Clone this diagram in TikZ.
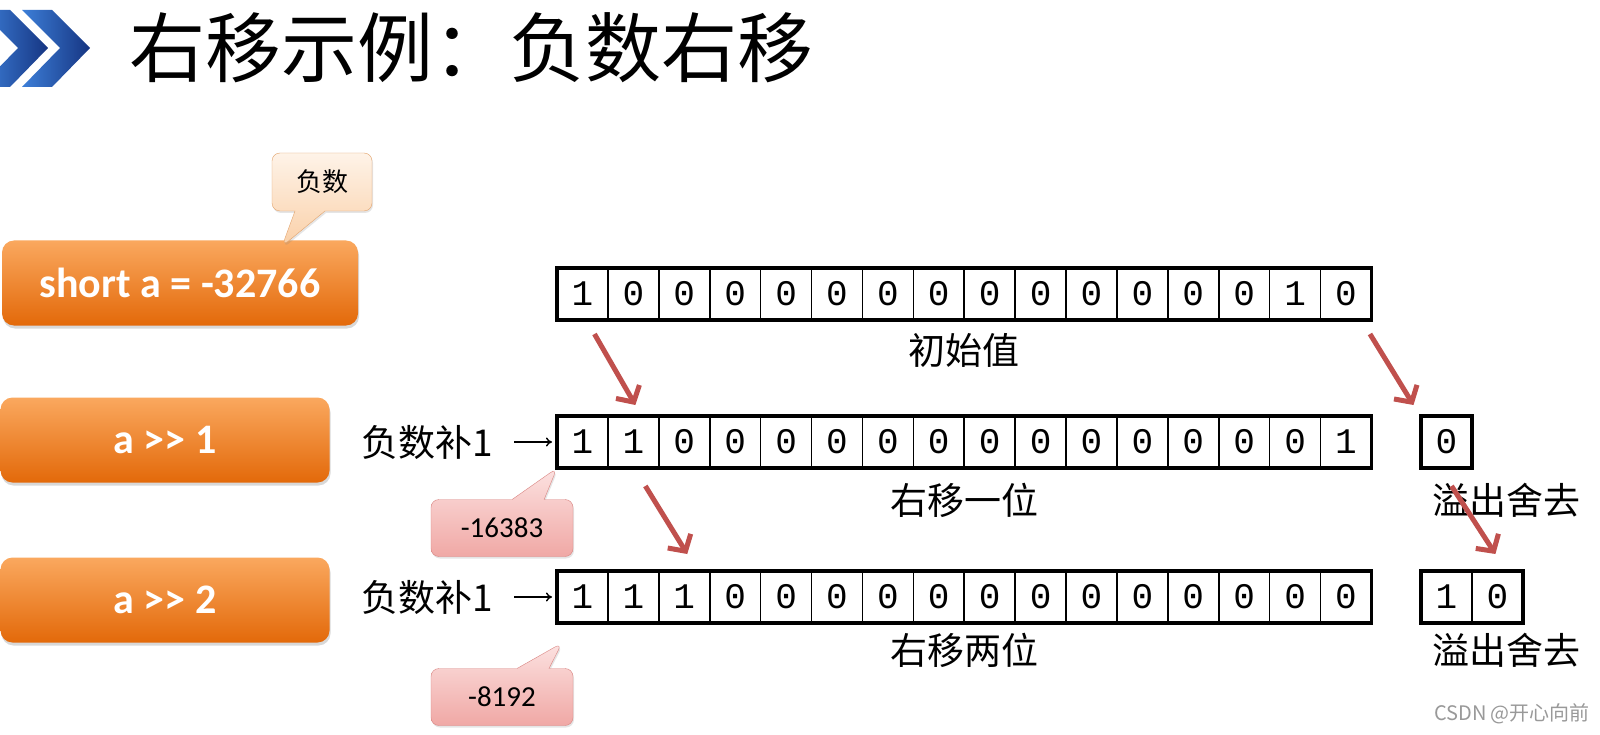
\documentclass[tikz,border=0pt]{standalone}
\usepackage{fontspec}
\setmainfont{Carlito}
\newfontfamily\cjk{Noto Sans CJK SC}
\newfontfamily\bitfont{Liberation Mono}
\usepackage{tikz}
\usetikzlibrary{arrows.meta,positioning,shapes.callouts,shadows}
\definecolor{chevronL}{HTML}{3D7FD8}
\definecolor{chevronR}{HTML}{163582}
\definecolor{codeTop}{HTML}{FAA85E}
\definecolor{codeBot}{HTML}{E3690A}
\definecolor{tagTop}{HTML}{FCE2E1}
\definecolor{tagBot}{HTML}{F0A8A5}
\definecolor{tagLine}{HTML}{D98481}
\definecolor{noteTop}{HTML}{FEF3E8}
\definecolor{noteBot}{HTML}{FAD0A8}
\definecolor{noteLine}{HTML}{E2A46E}
\definecolor{shiftRed}{HTML}{C0504D}

\begin{document}
\begin{tikzpicture}[x=1pt, y=-1pt,
  codeBox/.style={rounded corners=12pt, top color=codeTop, bottom color=codeBot, text=white,
    font=\fontsize{42}{46}\selectfont\bfseries, minimum height=85pt,
    drop shadow={opacity=0.3, shadow xshift=1pt, shadow yshift=-3pt}},
  bit/.style={draw, line width=1.6pt, outer sep=0pt, inner sep=0pt, minimum width=50.9pt,
    minimum height=52pt, font=\fontsize{36}{38}\selectfont\bitfont},
  frame/.style={line width=3.6pt},
  rowText/.style={font=\fontsize{37}{40}\selectfont\cjk},
  tag/.style={rectangle callout, rounded corners=8pt, draw=tagLine, top color=tagTop, bottom color=tagBot,
    minimum width=142pt, minimum height=57pt, font=\fontsize{29}{32}\selectfont, callout pointer width=32pt,
    drop shadow={opacity=0.2, shadow xshift=1pt, shadow yshift=-2pt}},
  note/.style={rectangle callout, rounded corners=8pt, draw=noteLine, top color=noteTop, bottom color=noteBot,
    minimum width=100pt, minimum height=58pt, font=\fontsize{26}{28}\selectfont\cjk, callout pointer width=30pt,
    drop shadow={opacity=0.2, shadow xshift=1pt, shadow yshift=-2pt}},
  shiftArrow/.style={draw=shiftRed, line width=5pt, -{Straight Barb[length=12pt,width=27pt]}},
  fillArrow/.style={line width=1.4pt, -{To[length=6pt,width=9pt]}, shorten <=17pt, shorten >=5pt}
]
  \useasboundingbox[fill=white] (0,0) rectangle (1600,735);

  % title
  \shade[left color=chevronL, right color=chevronR] (-20,10) -- (10,10) -- (48,48) -- (10,87) -- (-20,87) -- (18,48) -- cycle;
  \shade[left color=chevronL, right color=chevronR] (22,10) -- (52,10) -- (90,48) -- (52,87) -- (22,87) -- (60,48) -- cycle;
  \node[anchor=west, font=\fontsize{76}{80}\selectfont\cjk] (title) at (126,48) {右移示例：负数右移};

  % code boxes
  \node[codeBox, minimum width=356pt] (decl) at (180,283) {short a = -32766};
  \node[codeBox, minimum width=329pt] (op1) at (165,440) {a >{}> 1};
  \node[codeBox, minimum width=329pt] (op2) at (165,600) {a >{}> 2};
  \node[note, callout absolute pointer={([xshift=102pt,yshift=-6pt]decl.north)}] (negNote) at (322,182) {负数};

  % bit rows
  \foreach \b [count=\i] in {1,0,0,0,0,0,0,0,0,0,0,0,0,0,1,0}
    \node[bit] (init-\i) at ({557+50.9*(\i-0.5)},294) {\b};
  \foreach \b [count=\i] in {1,1,0,0,0,0,0,0,0,0,0,0,0,0,0,1}
    \node[bit] (shift1-\i) at ({557+50.9*(\i-0.5)},442) {\b};
  \foreach \b [count=\i] in {1,1,1,0,0,0,0,0,0,0,0,0,0,0,0,0}
    \node[bit] (shift2-\i) at ({557+50.9*(\i-0.5)},597) {\b};
  \draw[frame] (init-1.north west) rectangle (init-16.south east);
  \draw[frame] (shift1-1.north west) rectangle (shift1-16.south east);
  \draw[frame] (shift2-1.north west) rectangle (shift2-16.south east);

  % dropped bits
  \node[bit] (drop1) at (1446.5,442) {0};
  \node[bit] (drop2a) at (1446.5,597) {1};
  \node[bit, right=0pt of drop2a] (drop2b) {0};
  \draw[frame] (drop1.north west) rectangle (drop1.south east);
  \draw[frame] (drop2a.north west) rectangle (drop2b.south east);

  % captions
  \node[rowText] (initLbl) at (964,350) {初始值};
  \node[rowText] (shift1Lbl) at (964,500) {右移一位};
  \node[rowText] (shift2Lbl) at (964,650) {右移两位};
  \node[rowText] (drop1Lbl) at (1506,500) {溢出舍去};
  \node[rowText] (drop2Lbl) at (1506,650) {溢出舍去};
  \node[rowText, anchor=east] (fill1) at (497,442) {负数补1};
  \node[rowText, anchor=east] (fill2) at (497,597) {负数补1};
  \draw[fillArrow] (fill1.east) -- (shift1-1.west);
  \draw[fillArrow] (fill2.east) -- (shift2-1.west);

  % values
  \node[tag, callout absolute pointer={(shift1-1.south west)}] (val1) at (502,528) {-16383};
  \node[tag, callout absolute pointer={([xshift=5pt,yshift=-20pt]shift2-1.south west)}] (val2) at (502,697) {-8192};

  % shift arrows
  \draw[shiftArrow] ([xshift=12pt,yshift=-14pt]init-1.south) -- ([xshift=2pt,yshift=11pt]shift1-2.north);
  \draw[shiftArrow] ([xshift=24pt,yshift=-14pt]init-16.south) -- ([xshift=-33pt,yshift=11pt]drop1.north);
  \draw[shiftArrow] ([xshift=12pt,yshift=-18pt]shift1-2.south) -- ([xshift=3pt,yshift=17pt]shift2-3.north);
  \draw[shiftArrow] ([xshift=5pt,yshift=-18pt]drop1.south) -- ([xshift=-2pt,yshift=17pt]drop2b.north);

  \node[font=\fontsize{20}{22}\selectfont\cjk, text=black!40] (mark) at (1512,714) {CSDN @开心向前};
\end{tikzpicture}
\end{document}
